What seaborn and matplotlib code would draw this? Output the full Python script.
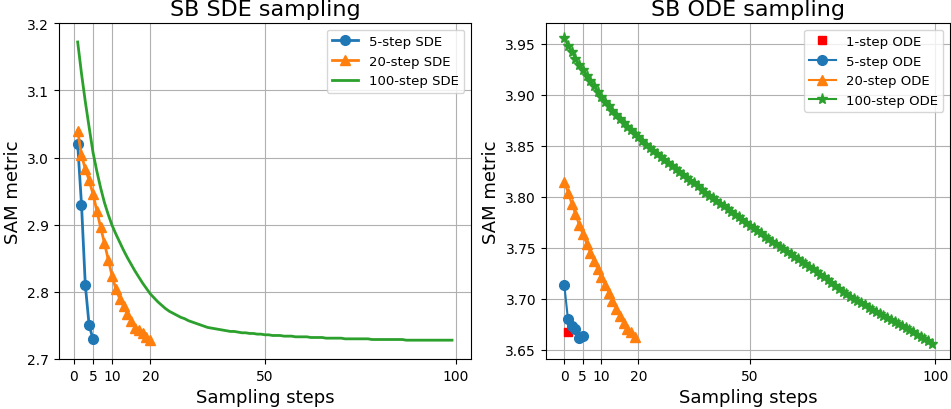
import numpy as np
import seaborn as sns
import matplotlib
matplotlib.use("Agg")
import matplotlib.pyplot as plt

# ---- SDE panel data ----
sde5_x = [1, 2, 3, 4, 5]
sde5_y = [3.020, 2.930, 2.810, 2.750, 2.730]

sde20_x = list(range(1, 21))
sde20_y = [3.040, 3.003, 2.983, 2.966, 2.946, 2.921, 2.896, 2.873, 2.848, 2.824,
           2.804, 2.790, 2.779, 2.767, 2.756, 2.746, 2.743, 2.739, 2.733, 2.729]

sde100_x = list(range(1, 100))
sde100_y = [3.172, 3.125, 3.083, 3.045, 3.008, 2.980, 2.955, 2.933, 2.915, 2.899,
            2.886, 2.874, 2.862, 2.851, 2.841, 2.831, 2.822, 2.813, 2.805, 2.797,
            2.791, 2.785, 2.780, 2.775, 2.771, 2.768, 2.765, 2.762, 2.760, 2.757,
            2.755, 2.753, 2.751, 2.749, 2.747, 2.746, 2.745, 2.744, 2.743, 2.742,
            2.741, 2.741, 2.740, 2.739, 2.739, 2.738, 2.738, 2.737, 2.737, 2.736,
            2.736, 2.735, 2.735, 2.735, 2.734, 2.734, 2.734, 2.733, 2.733, 2.733,
            2.733, 2.732, 2.732, 2.732, 2.732, 2.731, 2.731, 2.731, 2.731, 2.731,
            2.730, 2.730, 2.730, 2.730, 2.730, 2.730, 2.730, 2.729, 2.729, 2.729,
            2.729, 2.729, 2.729, 2.729, 2.729, 2.729, 2.728, 2.728, 2.728, 2.728,
            2.728, 2.728, 2.728, 2.728, 2.728, 2.728, 2.728, 2.728, 2.728]

# ---- ODE panel data ----
ode1_x = [1]
ode1_y = [3.667]

ode5_x = [0, 1, 2, 3, 4, 5]
ode5_y = [3.714, 3.680, 3.673, 3.670, 3.662, 3.664]

ode20_x = list(range(0, 20))
ode20_y = [3.814, 3.804, 3.793, 3.783, 3.772, 3.763, 3.754, 3.745, 3.737, 3.729,
           3.721, 3.714, 3.706, 3.698, 3.690, 3.683, 3.676, 3.670, 3.667, 3.663]

ode100_x = list(range(0, 100))
ode100_y = [3.955, 3.948, 3.942, 3.935, 3.929, 3.924, 3.918, 3.913, 3.908, 3.903,
            3.898, 3.893, 3.889, 3.884, 3.880, 3.876, 3.872, 3.868, 3.865, 3.861,
            3.858, 3.855, 3.851, 3.848, 3.845, 3.842, 3.839, 3.836, 3.833, 3.830,
            3.827, 3.824, 3.821, 3.818, 3.815, 3.813, 3.810, 3.807, 3.804, 3.801,
            3.799, 3.796, 3.793, 3.791, 3.788, 3.785, 3.782, 3.780, 3.777, 3.774,
            3.771, 3.769, 3.766, 3.764, 3.761, 3.759, 3.756, 3.754, 3.751, 3.749,
            3.746, 3.744, 3.741, 3.739, 3.736, 3.734, 3.731, 3.729, 3.726, 3.723,
            3.721, 3.718, 3.715, 3.713, 3.710, 3.707, 3.705, 3.702, 3.700, 3.698,
            3.696, 3.694, 3.691, 3.689, 3.687, 3.685, 3.683, 3.681, 3.679, 3.677,
            3.675, 3.673, 3.671, 3.669, 3.667, 3.665, 3.663, 3.661, 3.659, 3.656]

xticks = [0, 5, 10, 20, 50, 100]
c_blue, c_orange, c_green = "#1f77b4", "#ff7f0e", "#2ca02c"

fig = plt.figure(figsize=(9.51, 4.10), dpi=100)
ax1 = fig.add_axes([0.062, 0.122, 0.433, 0.819])
ax2 = fig.add_axes([0.574, 0.122, 0.425, 0.819])

# left: SDE
sns.lineplot(x=sde5_x, y=sde5_y, ax=ax1, color=c_blue, marker="o", markersize=7,
             mec=c_blue, mew=1, linewidth=2, label="5-step SDE")
sns.lineplot(x=sde20_x, y=sde20_y, ax=ax1, color=c_orange, marker="^", markersize=7,
             mec=c_orange, mew=1, linewidth=2, label="20-step SDE")
sns.lineplot(x=sde100_x, y=sde100_y, ax=ax1, color=c_green, linewidth=2,
             label="100-step SDE")
ax1.set_ylim(2.7, 3.2)
ax1.set_title("SB SDE sampling", fontsize=16)

# right: ODE
sns.lineplot(x=ode1_x, y=ode1_y, ax=ax2, color="red", marker="s", markersize=6,
             mec="red", mew=1, linestyle="", label="1-step ODE")
sns.lineplot(x=ode5_x, y=ode5_y, ax=ax2, color=c_blue, marker="o", markersize=7,
             mec=c_blue, mew=1, linewidth=1.5, label="5-step ODE")
sns.lineplot(x=ode20_x, y=ode20_y, ax=ax2, color=c_orange, marker="^", markersize=7,
             mec=c_orange, mew=1, linewidth=1.5, label="20-step ODE")
sns.lineplot(x=ode100_x, y=ode100_y, ax=ax2, color=c_green, marker="*", markersize=8,
             mec=c_green, mew=1, linewidth=1.5, label="100-step ODE")
ax2.set_yticks([3.65, 3.70, 3.75, 3.80, 3.85, 3.90, 3.95])
ax2.set_title("SB ODE sampling", fontsize=16)

for ax in (ax1, ax2):
    ax.set_xticks(xticks)
    ax.set_xlabel("Sampling steps", fontsize=13)
    ax.set_ylabel("SAM metric", fontsize=13)
    ax.tick_params(labelsize=10)
    ax.grid(True, color="#b0b0b0", linewidth=0.8)
    ax.legend(loc="upper right", fontsize=9.5)

plt.savefig("out.png", dpi=100)
